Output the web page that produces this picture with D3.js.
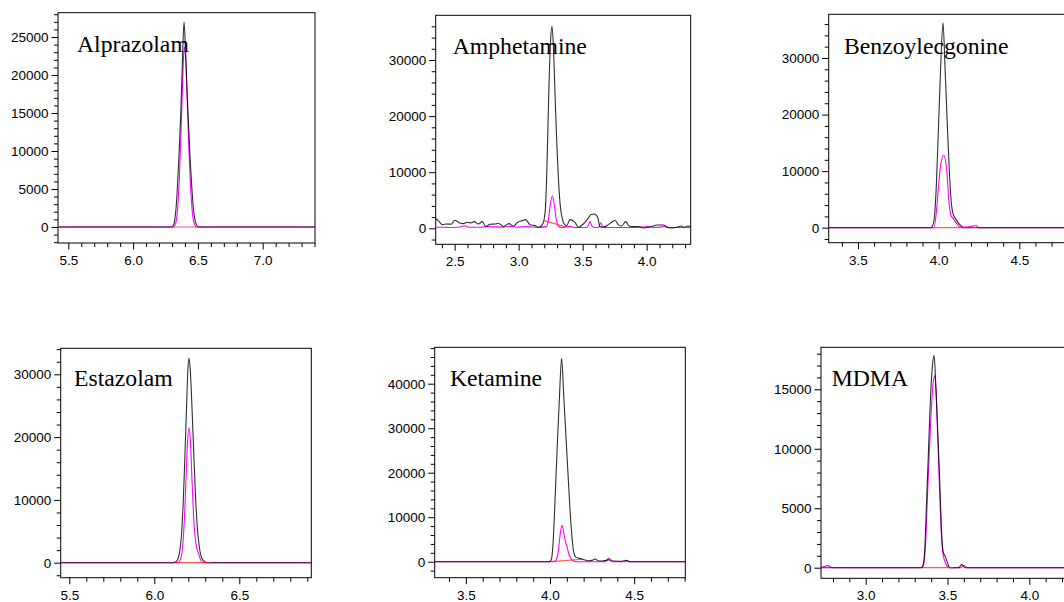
<!DOCTYPE html>
<html>
<head>
<meta charset="utf-8">
<script src="https://cdn.jsdelivr.net/npm/d3@7"></script>
<style>
html,body{margin:0;padding:0;background:#fff;overflow:hidden;}
svg{display:block;}
</style>
</head>
<body>
<svg id="chart" width="1064" height="602"></svg>
<script>
// ---------------- DATA ----------------
const compounds = ["Alprazolam","Amphetamine","Benzoylecgonine","Estazolam","Ketamine","MDMA"];

// [retention time (min), intensity]
const alprazolamQuant = [[5.42,0],[6.295,0],[6.308,150],[6.320,800],[6.333,2800],[6.346,6500],[6.358,11000],[6.368,15000],[6.380,21500],[6.393,27000],[6.404,23500],[6.416,18000],[6.428,13500],[6.440,9000],[6.452,5500],[6.465,2500],[6.478,900],[6.492,200],[6.505,0],[7.41,0]];
const alprazolamQual  = [[5.42,0],[6.310,0],[6.322,200],[6.334,900],[6.346,3000],[6.357,6500],[6.368,11500],[6.379,17500],[6.390,22500],[6.399,23700],[6.409,21000],[6.419,16000],[6.429,11000],[6.440,6500],[6.451,3200],[6.462,1200],[6.475,300],[6.490,0],[7.41,0]];
const alprazolamBase  = [[6.300,0],[6.505,0]];

const amphetamineQuant = [[2.346,1790],[2.372,1370],[2.403,650],[2.437,770],[2.471,710],[2.502,1430],[2.534,1010],[2.567,830],[2.599,1070],[2.627,950],[2.653,1190],[2.685,770],[2.716,1190],[2.742,300],[2.776,710],[2.815,770],[2.841,890],[2.880,300],[2.924,830],[2.958,360],[2.992,1070],[3.028,1370],[3.054,1550],[3.088,650],[3.127,480],[3.158,180],[3.185,650],[3.198,1500],[3.210,4000],[3.222,12000],[3.235,24000],[3.248,33000],[3.260,36000],[3.272,32000],[3.285,23000],[3.298,15000],[3.310,9000],[3.325,4000],[3.340,1800],[3.352,900],[3.375,480],[3.401,1550],[3.440,1070],[3.466,180],[3.505,770],[3.539,1670],[3.565,2440],[3.591,2560],[3.617,1960],[3.635,300],[3.661,180],[3.700,650],[3.726,1070],[3.752,1430],[3.778,650],[3.804,420],[3.836,1190],[3.862,420],[3.896,300],[3.935,300],[3.974,60],[4.013,180],[4.052,420],[4.078,600],[4.130,600],[4.156,180],[4.195,60],[4.234,180],[4.268,420],[4.294,180],[4.320,420],[4.346,240]];
const amphetamineQual = [[2.346,200],[2.403,200],[2.437,150],[2.530,200],[2.580,450],[2.610,200],[2.700,200],[2.760,300],[2.880,200],[2.930,350],[2.990,200],[3.070,300],[3.150,150],[3.215,300],[3.232,1500],[3.245,4000],[3.263,5800],[3.278,4200],[3.292,1800],[3.310,400],[3.340,150],[3.400,350],[3.440,150],[3.530,150],[3.545,600],[3.557,1200],[3.570,500],[3.590,150],[3.625,200],[3.641,1000],[3.655,300],[3.700,150],[3.800,150],[3.900,150],[4.013,300],[4.050,150],[4.120,250],[4.143,450],[4.170,150],[4.346,150]];
const amphetamineBase = [[3.198,1370],[3.370,240]];

const benzoylecgonineQuant = [[3.31,0],[3.950,0],[3.960,200],[3.972,1500],[3.985,7000],[3.998,17000],[4.012,28000],[4.027,36200],[4.040,28000],[4.054,18000],[4.068,9000],[4.080,4000],[4.091,2300],[4.105,1600],[4.120,900],[4.136,400],[4.155,0],[4.92,0]];
const benzoylecgonineQual  = [[3.31,0],[3.971,0],[3.985,2500],[3.998,6900],[4.012,11000],[4.031,12800],[4.049,10500],[4.064,4600],[4.076,2200],[4.091,1600],[4.111,750],[4.132,100],[4.190,150],[4.232,400],[4.248,0],[4.92,0]];
const benzoylecgonineBase  = [[3.955,0],[4.180,0]];

const estazolamQuant = [[5.44,0],[6.110,0],[6.130,200],[6.145,1200],[6.160,4500],[6.170,9500],[6.180,17000],[6.190,25000],[6.197,30500],[6.204,32600],[6.212,30500],[6.222,24500],[6.232,17500],[6.242,11000],[6.252,6000],[6.265,2500],[6.280,700],[6.300,100],[6.320,0],[6.93,0]];
const estazolamQual  = [[5.44,0],[6.140,0],[6.155,600],[6.168,3000],[6.178,7500],[6.186,13000],[6.195,19000],[6.204,21500],[6.213,19000],[6.222,13000],[6.232,7000],[6.245,3000],[6.260,1500],[6.275,300],[6.290,0],[6.93,0]];
const estazolamBase  = [[6.120,0],[6.332,0]];

const ketamineQuant = [[3.31,0],[3.995,0],[4.008,500],[4.018,4000],[4.030,14000],[4.042,25000],[4.055,36000],[4.069,45700],[4.082,37000],[4.095,28000],[4.108,19000],[4.120,11000],[4.132,5000],[4.142,2000],[4.152,1100],[4.174,750],[4.198,500],[4.228,200],[4.250,300],[4.267,600],[4.287,200],[4.310,150],[4.333,300],[4.356,450],[4.376,150],[4.426,100],[4.455,300],[4.475,0],[4.81,0]];
const ketamineQual  = [[3.31,0],[4.025,0],[4.040,800],[4.050,2500],[4.060,6000],[4.071,8200],[4.082,6500],[4.092,4500],[4.100,3500],[4.110,2000],[4.122,900],[4.138,200],[4.160,0],[4.330,0],[4.340,500],[4.348,750],[4.358,300],[4.370,0],[4.445,0],[4.455,200],[4.465,0],[4.81,0]];
const ketamineBase  = [[4.000,0],[4.195,550]];

const mdmaQuant = [[2.72,0],[3.340,0],[3.352,300],[3.362,1800],[3.372,5500],[3.383,9500],[3.395,14000],[3.408,17000],[3.418,17850],[3.428,15500],[3.440,11500],[3.452,7500],[3.462,3500],[3.474,1300],[3.488,900],[3.500,400],[3.515,0],[3.570,0],[3.587,280],[3.605,0],[4.27,0]];
const mdmaQual  = [[2.72,50],[2.750,100],[2.767,200],[2.785,50],[2.800,0],[3.345,0],[3.356,400],[3.366,2000],[3.376,5500],[3.388,9500],[3.400,13000],[3.412,15500],[3.423,16150],[3.433,14000],[3.443,10000],[3.453,6000],[3.462,3000],[3.472,1200],[3.485,500],[3.500,100],[3.515,0],[3.580,0],[3.600,180],[3.620,0],[4.27,0]];
const mdmaBase  = [[3.348,0],[3.535,0]];

const quantSeries = [alprazolamQuant, amphetamineQuant, benzoylecgonineQuant, estazolamQuant, ketamineQuant, mdmaQuant];
const qualSeries  = [alprazolamQual, amphetamineQual, benzoylecgonineQual, estazolamQual, ketamineQual, mdmaQual];
const baseSeries  = [alprazolamBase, amphetamineBase, benzoylecgonineBase, estazolamBase, ketamineBase, mdmaBase];

// axis settings
const xDomains = [[5.4205,7.4036],[2.3516,4.3438],[3.3184,4.9073],[5.4494,6.9235],[3.3149,4.8039],[2.7268,4.261]];
const yDomains = [[-2109,28202],[-2852,37968],[-2652,37724],[-2389,34140],[-3596,48180],[-891,18532]];
const yMajorStep = [5000,10000,10000,10000,10000,5000];
const yMinorStep = [1000,2000,2000,2000,2000,1000];

// ---------------- LAYOUT ----------------
const frames = [
  {l:58,    t:12.7, r:315,   b:243},
  {l:435.7, t:15.3, r:690.7, b:244.3},
  {l:828.7, t:14.3, r:1085,  b:242.7},
  {l:60.7,  t:348.3,r:311.3, b:577.7},
  {l:434.7, t:347.3,r:685.3, b:577.7},
  {l:821,   t:347.3,r:1072,  b:578.3}
];
const titlePos = [[77,52.3],[452.7,54],[844,54],[74,386],[450,385.7],[831.7,386]];

const svg = d3.select("#chart");
const tickFont = "'Liberation Sans', Arial, Helvetica, sans-serif";
const titleFont = "'Liberation Serif', 'Times New Roman', Times, serif";

function multiples(lo, hi, step){
  const out = [];
  const start = Math.ceil(lo/step - 1e-9);
  const end = Math.floor(hi/step + 1e-9);
  for(let k=start;k<=end;k++) out.push(+(k*step).toFixed(6));
  return out;
}

compounds.forEach((name, i) => {
  const f = frames[i];
  const x = d3.scaleLinear().domain(xDomains[i]).range([f.l, f.r]);
  const y = d3.scaleLinear().domain(yDomains[i]).range([f.b, f.t]);
  const g = svg.append("g");

  const clipId = "clip" + i;
  svg.append("clipPath").attr("id", clipId).append("rect")
    .attr("x", f.l).attr("y", f.t).attr("width", f.r - f.l).attr("height", f.b - f.t);

  // frame
  g.append("rect").attr("x", f.l).attr("y", f.t).attr("width", f.r - f.l).attr("height", f.b - f.t)
    .attr("fill", "none").attr("stroke", "#000").attr("stroke-width", 1);

  // x axis
  const xMinor = multiples(xDomains[i][0], xDomains[i][1], 0.1);
  const xMajor = multiples(xDomains[i][0], xDomains[i][1], 0.5);
  const xMinorAxis = d3.axisBottom(x).tickValues(xMinor.filter(v => !xMajor.some(m => Math.abs(m - v) < 1e-6))).tickSize(4).tickFormat("");
  const xMajorAxis = d3.axisBottom(x).tickValues(xMajor).tickSize(6.5).tickPadding(6).tickFormat(d3.format(".1f"));
  g.append("g").attr("transform", `translate(0,${f.b})`).call(xMinorAxis).call(s => s.select(".domain").remove());
  g.append("g").attr("transform", `translate(0,${f.b})`).call(xMajorAxis).call(s => s.select(".domain").remove());

  // y axis
  const yMinor = multiples(yDomains[i][0], yDomains[i][1], yMinorStep[i]);
  const yMajor = multiples(yDomains[i][0], yDomains[i][1], yMajorStep[i]);
  const yMinorAxis = d3.axisLeft(y).tickValues(yMinor.filter(v => yMajor.indexOf(v) < 0)).tickSize(4).tickFormat("");
  const yMajorAxis = d3.axisLeft(y).tickValues(yMajor.filter(v => v >= 0)).tickSize(6.5).tickPadding(3).tickFormat(d3.format("d"));
  g.append("g").attr("transform", `translate(${f.l},0)`).call(yMinorAxis).call(s => s.select(".domain").remove());
  g.append("g").attr("transform", `translate(${f.l},0)`).call(yMajorAxis).call(s => s.select(".domain").remove());

  g.selectAll(".tick line").attr("stroke", "#000").attr("stroke-width", 1);
  g.selectAll(".tick text").attr("font-family", tickFont).attr("font-size", "13.5px").attr("fill", "#000");

  const line = d3.line().x(d => x(d[0])).y(d => y(d[1])).curve(d3.curveMonotoneX);
  const plot = g.append("g").attr("clip-path", `url(#${clipId})`);

  plot.append("path").datum(qualSeries[i]).attr("d", line)
    .attr("fill", "none").attr("stroke", "#ff00ff").attr("stroke-width", 1.1);
  plot.append("path").datum(quantSeries[i]).attr("d", line)
    .attr("fill", "none").attr("stroke", "#000").attr("stroke-opacity", 0.82).attr("stroke-width", 1.1);
  plot.append("path").datum(baseSeries[i]).attr("d", d3.line().x(d => x(d[0])).y(d => y(d[1])))
    .attr("fill", "none").attr("stroke", "#ff2020").attr("stroke-opacity", 0.75).attr("stroke-width", 1.2);

  g.append("text").attr("x", titlePos[i][0]).attr("y", titlePos[i][1])
    .attr("font-family", titleFont).attr("font-size", "23.7px").attr("fill", "#000")
    .text(name);
});
</script>
</body>
</html>
